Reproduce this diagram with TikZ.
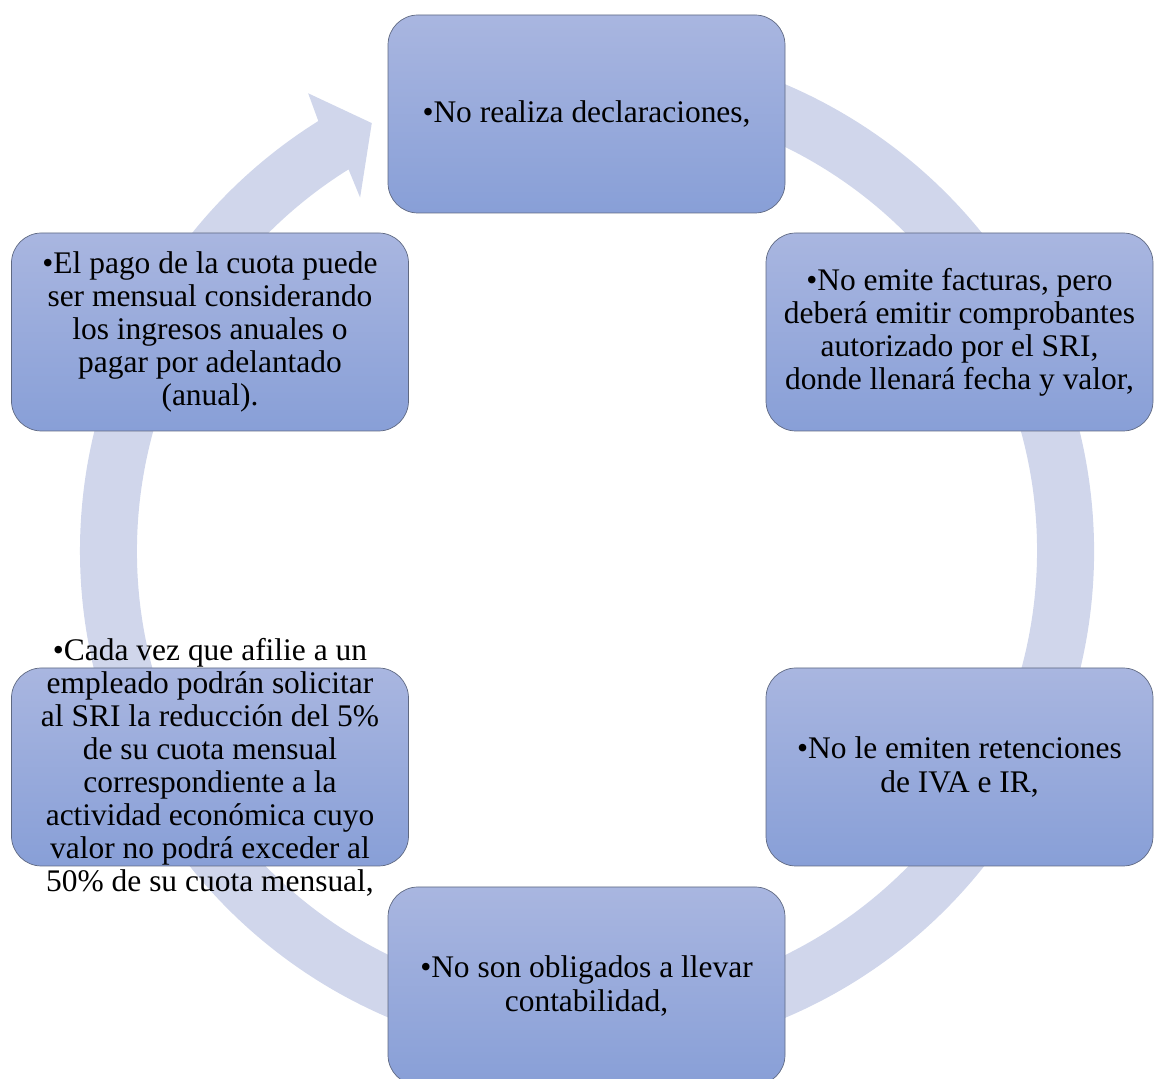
\documentclass[tikz,border=0pt]{standalone}
\usepackage{fontspec}
\setmainfont{Liberation Serif}
\usepackage{tikz}
\usetikzlibrary{calc}
\usepackage{xcolor}
\definecolor{azulsup}{RGB}{169,182,224}
\definecolor{azulinf}{RGB}{136,159,215}
\definecolor{anillo}{RGB}{208,214,235}
\definecolor{borde}{RGB}{95,105,130}

\begin{document}
\begin{tikzpicture}[
    font=\fontsize{17.9}{18.8}\selectfont,
    caja/.style={
      draw=borde, thin, rounded corners=0.6cm,
      minimum width=7.94cm, minimum height=3.96cm,
      top color=azulsup, bottom color=azulinf
    },
    texto/.style={align=center, inner sep=0pt},
    flecha/.style={fill=anillo}
  ]
    \useasboundingbox (0,0) rectangle (23.08,21.58);
    \coordinate (c) at (11.74,10.56);
    % anillo circular con punta de flecha
    \fill[flecha] ($(c)+(100:10.14)$) arc[start angle=100, end angle=-238, radius=10.14]
      -- ($(c)+(-238.65:10.72)$) -- ($(c)+(-243.3:9.58)$) -- ($(c)+(-237.3:8.4)$)
      -- ($(c)+(-238:9.0)$) arc[start angle=-238, end angle=100, radius=9.0] -- cycle;
    % cajas
    \node[caja] (decl) at (11.73,19.30) {};
    \node[caja, minimum width=7.74cm] (fact) at (19.19,14.94) {};
    \node[caja, minimum width=7.74cm] (ret) at (19.19,6.24) {};
    \node[caja] (cont) at (11.73,1.86) {};
    \node[caja] (afil) at (4.20,6.24) {};
    \node[caja] (pago) at (4.20,14.94) {};
    % textos
    \node[texto] (tdecl) at (decl) {\textbullet No realiza declaraciones,};
    \node[texto] (tfact) at (fact) {\textbullet No emite facturas, pero\\deberá emitir comprobantes\\autorizado por el SRI,\\donde llenará fecha y valor,};
    \node[texto] (tret) at (ret) {\textbullet No le emiten retenciones\\de IVA e IR,};
    \node[texto] (tcont) at (cont) {\textbullet No son obligados a llevar\\contabilidad,};
    \node[texto] (tafil) at (afil) {\textbullet Cada vez que afilie a un\\empleado podrán solicitar\\al SRI la reducción del 5\%\\de su cuota mensual\\correspondiente a la\\actividad económica cuyo\\valor no podrá exceder al\\50\% de su cuota mensual,};
    \node[texto] (tpago) at (pago) {\textbullet El pago de la cuota puede\\ser mensual considerando\\los ingresos anuales o\\pagar por adelantado\\(anual).};
\end{tikzpicture}
\end{document}
